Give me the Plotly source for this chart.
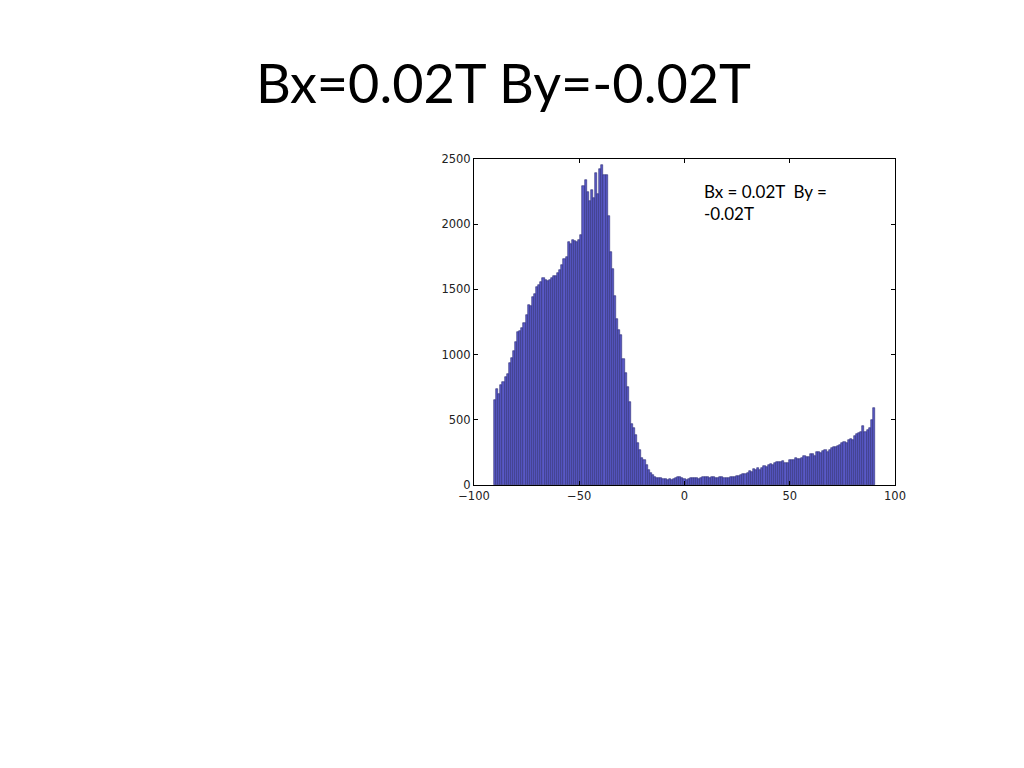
import plotly.graph_objects as go

# histogram counts, one per 1-degree bin, centres -90 .. 90
rise_counts = [650, 735, 700, 770, 790, 830, 850, 935, 975, 1025,
               1095, 1170, 1180, 1205, 1245, 1300, 1380, 1370, 1445, 1465,
               1520, 1535, 1560, 1590, 1575, 1565, 1570, 1590, 1600, 1600,
               1625, 1650, 1685, 1730, 1745, 1860, 1850, 1880, 1870, 1865]      # -90 .. -51
peak_counts = [1880, 1920, 2290, 2340, 2250, 2180, 2260, 2200, 2390, 2230,
               2420, 2455, 2380, 2380, 2060, 1790, 1660, 1450, 1270, 1190,
               1150, 970, 860, 750, 640, 470, 435, 385, 320, 265,
               210, 190, 150, 115, 90]                                            # -50 .. -16
flat_counts = [75, 62, 55, 52, 50, 48, 45, 42, 44, 40,
               45, 52, 58, 60, 55, 45, 42, 48, 52, 50,
               55, 52, 48, 50, 62, 65, 60, 55, 62, 58,
               55, 52, 58, 60, 55, 50, 56, 62, 58, 65]                            # -15 .. 24
tail_counts = [70, 68, 78, 85, 82, 95, 105, 100, 120, 118,
               130, 112, 128, 145, 140, 150, 160, 155, 165, 175,
               180, 178, 182, 170, 172, 188, 192, 190, 205, 200,
               198, 210, 222, 218, 215, 240, 235, 225, 250, 255,
               248, 262, 268, 255, 270, 282, 288, 295, 302, 310,
               320, 330, 325, 345, 352, 348, 378, 390, 400, 410,
               450, 405, 425, 440, 500, 590]                                      # 25 .. 90

counts = rise_counts + peak_counts + flat_counts + tail_counts
bin_centres = list(range(-90, 91))

x_ticks = [-100, -50, 0, 50, 100]
y_ticks = [0, 500, 1000, 1500, 2000, 2500]

slide_title = "Bx=0.02T By=-0.02T"
note = "Bx = 0.02T  By =<br>-0.02T"

fig = go.Figure()
fig.add_trace(go.Bar(x=bin_centres, y=counts, width=1,
                     marker=dict(color="#5a5ac6", line=dict(color="#2c2c74", width=0.6))))

axis_style = dict(showline=True, linecolor="black", linewidth=1, mirror="ticks",
                  ticks="inside", ticklen=4, tickcolor="black", showgrid=False, zeroline=False,
                  tickfont=dict(family="DejaVu Sans", size=11.5, color="#222222"))

fig.update_xaxes(range=[-100, 100], tickvals=x_ticks, **axis_style)
fig.update_yaxes(range=[0, 2500], tickvals=y_ticks, **axis_style)

fig.add_annotation(text=slide_title, xref="paper", yref="paper", x=0.069, y=1.236,
                   xanchor="center", yanchor="middle", showarrow=False,
                   font=dict(family="Lato", size=54, color="black"))
fig.add_annotation(text=note, xref="paper", yref="paper", x=0.541, y=0.94,
                   xanchor="left", yanchor="top", align="left", showarrow=False,
                   font=dict(family="Lato", size=17, color="black"))

fig.update_layout(width=1024, height=768, bargap=0, showlegend=False,
                  plot_bgcolor="white", paper_bgcolor="white",
                  margin=dict(l=466, r=137, t=151, b=291))

fig.write_html("out.html")
